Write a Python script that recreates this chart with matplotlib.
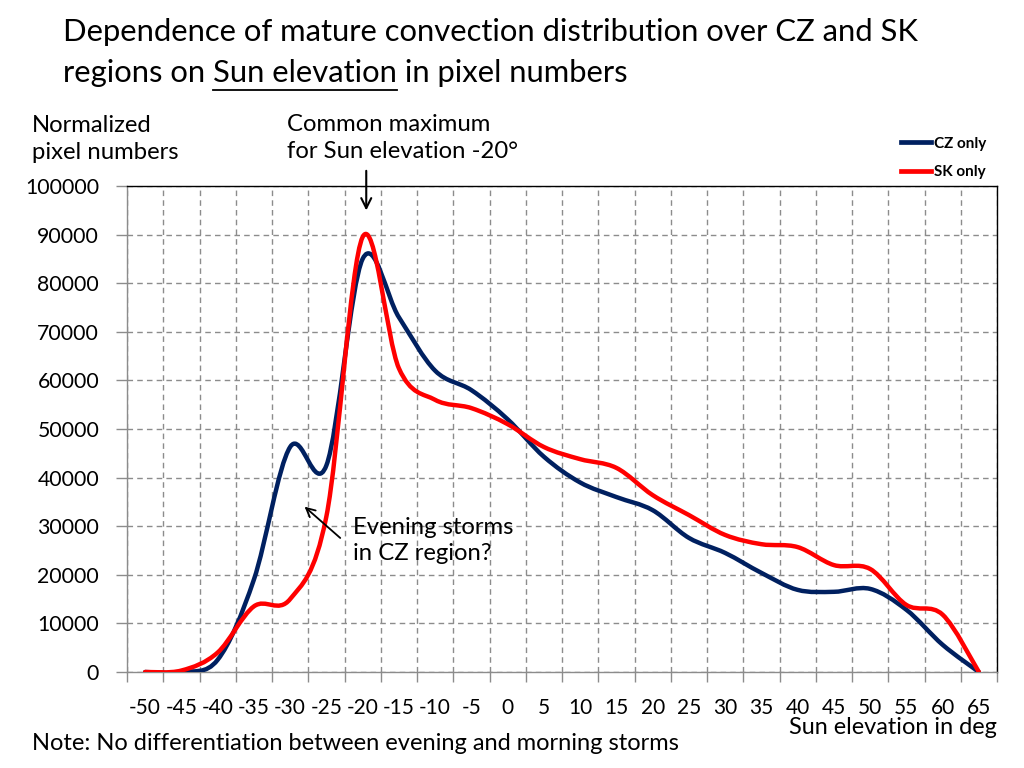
import numpy as np
import matplotlib.pyplot as plt
from matplotlib.path import Path
from matplotlib.patches import PathPatch
from matplotlib.lines import Line2D

plt.rcParams['font.family'] = ['Lato', 'DejaVu Sans']

# Sun elevation categories (deg)
elevation = [-50, -45, -40, -35, -30, -25, -20, -15, -10, -5, 0, 5, 10, 15,
             20, 25, 30, 35, 40, 45, 50, 55, 60, 65]
# normalized pixel numbers
cz_only = [0, 0, 2500, 19000, 46300, 42500, 85000, 73000, 62000, 58000,
           52000, 44300, 39000, 36000, 33300, 27600, 24500, 20400, 16900,
           16500, 17100, 12800, 5600, 0]
sk_only = [0, 300, 4000, 13500, 15000, 32000, 89500, 62500, 56000, 54300,
           51000, 46300, 43800, 42000, 36400, 32300, 28200, 26300, 25700,
           22000, 21200, 13800, 11800, 0]

blue = '#002060'
red = '#FF0000'
grid_c = '#8C8C8C'


def smooth_path(xs, ys):
    # Excel-like smoothed line: cubic bezier through the data points
    pts = np.column_stack([xs, ys]).astype(float)
    n = len(pts)
    verts = [pts[0]]
    codes = [Path.MOVETO]
    for i in range(n - 1):
        p0 = pts[max(i - 1, 0)]
        p1 = pts[i]
        p2 = pts[i + 1]
        p3 = pts[min(i + 2, n - 1)]
        verts += [p1 + (p2 - p0) / 6, p2 - (p3 - p1) / 6, p2]
        codes += [Path.CURVE4] * 3
    return Path(verts, codes)


fig = plt.figure(figsize=(10.24, 7.68), dpi=100)
ax = fig.add_axes([127 / 1024, 1 - 672 / 768, 870 / 1024, 486 / 768])

for ys, col in [(cz_only, blue), (sk_only, red)]:
    ax.add_patch(PathPatch(smooth_path(elevation, ys), facecolor='none',
                           edgecolor=col, lw=3.2, capstyle='round',
                           joinstyle='round', zorder=3))

ax.set_xlim(elevation[0] - 2.5, elevation[-1] + 2.5)
ax.set_ylim(0, 100000)

ax.set_xticks(elevation)
ax.set_xticklabels([str(v) for v in elevation])
bounds = np.arange(elevation[0] - 2.5, elevation[-1] + 5, 5)
ax.set_xticks(bounds, minor=True)
ax.tick_params(axis='x', which='major', length=0, pad=19, labelsize=15)
ax.tick_params(axis='x', which='minor', length=7, width=1, color=grid_c,
               direction='out')
ax.set_yticks(np.arange(0, 100001, 10000))
ax.tick_params(axis='y', length=8, width=1, color=grid_c, pad=12,
               labelsize=15.3)

ax.grid(True, axis='x', which='minor', ls=(0, (4, 3)), color=grid_c, lw=1)
ax.grid(True, axis='y', which='major', ls=(0, (4, 3)), color=grid_c, lw=1)
ax.set_axisbelow(True)

ax.spines['left'].set_color(grid_c)
ax.spines['bottom'].set_color(grid_c)
ax.spines['top'].set_color('black')
ax.spines['right'].set_color('black')
for s in ax.spines.values():
    s.set_linewidth(1)

# legend
handles = [Line2D([], [], color=blue, lw=3.4, label='CZ only'),
           Line2D([], [], color=red, lw=3.4, label='SK only')]
fig.legend(handles=handles, loc='upper left',
           bbox_to_anchor=(887 / 1024, 1 - 123 / 768),
           frameon=False, handlelength=2.0, handletextpad=0.15,
           labelspacing=0.95, prop={'weight': 'bold', 'size': 11})

# title with underlined "Sun elevation"
tsize = 22.3
fig.text(63 / 1024, 1 - 32 / 768,
         'Dependence of mature convection distribution over CZ and SK',
         fontsize=tsize, va='center', ha='left')
r = fig.canvas.get_renderer()
x0 = 63 / 1024
y1 = 1 - 73 / 768
parts = ['regions on ', 'Sun elevation', ' in pixel numbers']
for k, p in enumerate(parts):
    t = fig.text(x0, y1, p, fontsize=tsize, va='center', ha='left')
    w = t.get_window_extent(renderer=r).width / fig.bbox.width
    if k == 1:
        fig.add_artist(Line2D([x0, x0 + w], [1 - 90 / 768, 1 - 90 / 768],
                              color='black', lw=1.3,
                              transform=fig.transFigure))
    x0 = x0 + w

fig.text(32 / 1024, 1 - 139 / 768, 'Normalized\npixel numbers', fontsize=17.2,
         va='center', ha='left', linespacing=1.3)
fig.text(287 / 1024, 1 - 138 / 768, 'Common maximum\nfor Sun elevation -20°',
         fontsize=17.2, va='center', ha='left', linespacing=1.3)
ax.annotate('', xy=(-19.5, 94400), xytext=(-19.5, 103700),
            arrowprops=dict(arrowstyle='->', color='black', lw=1.5,
                            mutation_scale=18),
            annotation_clip=False)

ax.text(-21.3, 27000, 'Evening storms\nin CZ region?', fontsize=17.2,
        va='center', ha='left', linespacing=1.3)
ax.annotate('', xy=(-28.3, 34400), xytext=(-22.8, 27200),
            arrowprops=dict(arrowstyle='->', color='black', lw=1.3,
                            mutation_scale=16))

fig.text(997 / 1024, 1 - 727 / 768, 'Sun elevation in deg', fontsize=16.9,
         va='center', ha='right')
fig.text(32 / 1024, 1 - 744 / 768,
         'Note: No differentiation between evening and morning storms',
         fontsize=17, va='center', ha='left')

fig.savefig('out.png', dpi=100)
